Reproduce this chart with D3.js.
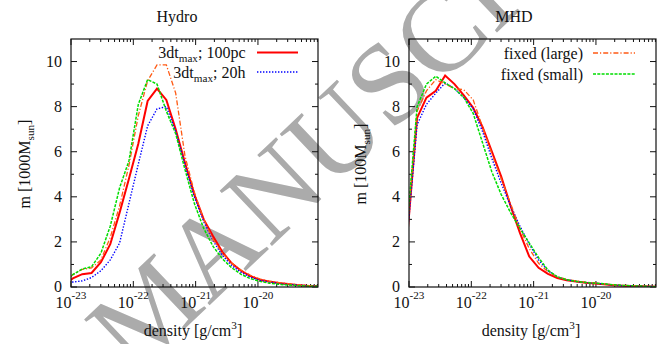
<!DOCTYPE html>
<html>
<head>
<meta charset="utf-8">
<script src="https://cdn.jsdelivr.net/npm/d3@7"></script>
<style>
  body { margin: 0; background: #fff; }
  svg { display: block; }
</style>
</head>
<body>
<svg id="chart" width="670" height="344" font-family="'Liberation Serif', 'Times New Roman', Times, serif"></svg>
<script>
// ---- data: mass per density bin, log10(density [g/cm^3]) grids ----
const hydroLogDensity = [-23.12, -22.97, -22.82, -22.67, -22.52, -22.37, -22.22, -22.07, -21.92, -21.77,
  -21.62, -21.47, -21.32, -21.17, -21.02, -20.87, -20.72, -20.57, -20.42, -20.27,
  -20.12, -19.97, -19.82, -19.67, -19.52, -19.37, -19.22, -19.07, -18.92];
// Hydro run, mass in 1000 Msun
const hydro100pc = [0.10, 0.38, 0.57, 0.62, 1.10, 1.90, 3.30, 4.80, 6.35, 8.25,
  8.80, 8.30, 7.00, 5.50, 4.10, 3.00, 2.25, 1.55, 1.05, 0.72,
  0.48, 0.32, 0.24, 0.18, 0.13, 0.09, 0.06, 0.04, 0.02];
const hydro20h = [0.10, 0.22, 0.27, 0.42, 0.72, 1.20, 1.95, 3.70, 5.45, 7.15,
  7.90, 8.00, 6.90, 5.40, 4.00, 2.90, 2.05, 1.40, 0.95, 0.65,
  0.43, 0.30, 0.22, 0.16, 0.12, 0.09, 0.06, 0.04, 0.02];
const hydroFixedLarge = [0.15, 0.55, 0.78, 0.85, 1.20, 2.20, 3.60, 5.40, 7.60, 9.15,
  9.85, 9.85, 8.60, 5.80, 4.20, 3.00, 2.10, 1.50, 1.05, 0.75,
  0.52, 0.36, 0.26, 0.20, 0.15, 0.10, 0.07, 0.04, 0.02];
const hydroFixedSmall = [0.10, 0.55, 0.80, 0.90, 1.50, 2.70, 4.40, 5.60, 8.10, 9.20,
  9.00, 7.80, 6.80, 5.20, 3.70, 2.60, 1.80, 1.25, 0.85, 0.56,
  0.37, 0.25, 0.17, 0.12, 0.09, 0.06, 0.04, 0.03, 0.02];

const mhdLogDensity = [-23.02, -22.87, -22.72, -22.57, -22.42, -22.27, -22.12, -21.97, -21.82, -21.67,
  -21.52, -21.37, -21.22, -21.07, -20.92, -20.77, -20.62, -20.47, -20.32, -20.17,
  -20.02, -19.87, -19.72, -19.57, -19.42, -19.27, -19.12, -18.97];
// MHD run, mass in 100 Msun
const mhd100pc = [2.50, 7.50, 8.40, 8.70, 9.38, 9.00, 8.50, 7.95, 7.10, 6.00,
  4.90, 3.60, 2.40, 1.35, 0.85, 0.58, 0.40, 0.30, 0.24, 0.19,
  0.16, 0.12, 0.08, 0.06, 0.04, 0.03, 0.02, 0.01];
const mhd20h = [2.50, 7.20, 8.10, 8.60, 9.05, 8.80, 8.40, 7.90, 6.90, 5.70,
  4.60, 3.60, 2.70, 1.90, 1.20, 0.72, 0.45, 0.32, 0.25, 0.20,
  0.17, 0.13, 0.09, 0.06, 0.04, 0.03, 0.02, 0.01];
const mhdFixedLarge = [2.80, 7.80, 8.70, 9.20, 9.00, 8.80, 8.75, 8.30, 7.10, 5.90,
  4.80, 3.70, 2.60, 1.70, 1.05, 0.68, 0.45, 0.34, 0.27, 0.22,
  0.18, 0.14, 0.10, 0.07, 0.05, 0.03, 0.02, 0.01];
const mhdFixedSmall = [3.00, 8.00, 9.00, 9.35, 9.05, 8.80, 8.40, 7.70, 6.40, 5.10,
  4.10, 3.30, 2.60, 1.95, 1.30, 0.75, 0.45, 0.32, 0.25, 0.20,
  0.17, 0.14, 0.10, 0.07, 0.05, 0.04, 0.02, 0.01];

const xMajorExponents = [-23, -22, -21, -20];
const yMajorTicks = [0, 2, 4, 6, 8, 10];
const yMinorTicks = [1, 3, 5, 7, 9];
const densityMin = 1e-23;
const densityMax = 9.2e-20;
const massMax = 11;

// ---- drawing ----
const svg = d3.select("#chart");
const FONT = 16;
const INK = "#111";

// background watermark
svg.append("text")
  .attr("transform", "translate(134,377) rotate(-43.5)")
  .attr("font-size", 116)
  .attr("fill", "#ababab")
  .text("MANUSCRIPT");

const styles = {
  res100pc: { color: "#ff0000", width: 2.0, dash: null },
  res20h:   { color: "#0000ff", width: 1.4, dash: "1.4,1.6" },
  large:    { color: "#ff5a14", width: 1.3, dash: "5,2,1.2,2" },
  small:    { color: "#00dd00", width: 1.5, dash: "3,1.3" }
};

function panel(cfg) {
  const x = d3.scaleLog().domain([densityMin, densityMax]).range([cfg.x0, cfg.x1]);
  const y = d3.scaleLinear().domain([0, massMax]).range([287, 39]);
  const g = svg.append("g");
  const clipId = "clip-" + cfg.id;
  g.append("clipPath").attr("id", clipId)
    .append("rect").attr("x", cfg.x0).attr("y", 39)
    .attr("width", cfg.x1 - cfg.x0).attr("height", 287 - 39);

  // ticks (inward, mirrored)
  const tickG = g.append("g").attr("stroke", INK).attr("stroke-width", 1);
  const allX = x.ticks().filter(v => v >= densityMin && v <= densityMax);
  allX.forEach(v => {
    const major = Math.abs(Math.log10(v) - Math.round(Math.log10(v))) < 1e-6;
    const len = major ? 6 : 3;
    const px = x(v);
    tickG.append("line").attr("x1", px).attr("x2", px).attr("y1", 287).attr("y2", 287 - len);
    tickG.append("line").attr("x1", px).attr("x2", px).attr("y1", 39).attr("y2", 39 + len);
  });
  yMajorTicks.concat(yMinorTicks).forEach(v => {
    const len = yMajorTicks.includes(v) ? 6 : 3;
    const py = y(v);
    tickG.append("line").attr("x1", cfg.x0).attr("x2", cfg.x0 + len).attr("y1", py).attr("y2", py);
    tickG.append("line").attr("x1", cfg.x1).attr("x2", cfg.x1 - len).attr("y1", py).attr("y2", py);
  });

  // y tick labels
  yMajorTicks.forEach(v => {
    g.append("text").attr("x", cfg.x0 - 9).attr("y", y(v) + 5.5 - (v === 0 ? 1 : 0))
      .attr("text-anchor", "end").attr("font-size", FONT).attr("fill", INK).text(v);
  });
  // x tick labels 10^n
  xMajorExponents.forEach(e => {
    const t = g.append("text").attr("x", x(Math.pow(10, e))).attr("y", 307.5)
      .attr("text-anchor", "middle").attr("font-size", FONT).attr("fill", INK);
    t.append("tspan").text("10");
    t.append("tspan").attr("dy", -9).attr("font-size", FONT * 0.7).text("-" + Math.abs(e));
  });

  // curves
  const line = d3.line()
    .x(d => x(Math.pow(10, d[0])))
    .y(d => y(d[1]));
  const cg = g.append("g").attr("clip-path", `url(#${clipId})`);
  cfg.series.forEach(s => {
    const st = styles[s.style];
    cg.append("path")
      .datum(cfg.logDensity.map((ld, i) => [ld, s.values[i]]))
      .attr("d", line)
      .attr("fill", "none")
      .attr("stroke", st.color)
      .attr("stroke-width", st.width)
      .attr("stroke-dasharray", st.dash)
      .attr("stroke-linejoin", "miter");
  });

  // frame
  g.append("rect").attr("x", cfg.x0).attr("y", 39)
    .attr("width", cfg.x1 - cfg.x0).attr("height", 287 - 39)
    .attr("fill", "none").attr("stroke", INK).attr("stroke-width", 1.2);

  // title
  g.append("text").attr("x", cfg.titleX).attr("y", 22).attr("text-anchor", "middle")
    .attr("font-size", FONT).attr("fill", INK).text(cfg.title);

  // axis labels
  const xl = g.append("text").attr("x", cfg.xLabelX).attr("y", 336).attr("text-anchor", "middle")
    .attr("font-size", FONT).attr("fill", INK);
  xl.append("tspan").text("density [g/cm");
  xl.append("tspan").attr("dy", -7).attr("font-size", FONT * 0.7).text("3");
  xl.append("tspan").attr("dy", 7).text("]");

  const yl = g.append("text")
    .attr("transform", `translate(${cfg.yLabelX},164) rotate(-90)`)
    .attr("text-anchor", "middle").attr("font-size", FONT).attr("fill", INK);
  yl.append("tspan").text(cfg.yLabelMain);
  yl.append("tspan").attr("dy", 4).attr("font-size", FONT * 0.7).text("sun");
  yl.append("tspan").attr("dy", -4).text("]");

  // legend
  cfg.legend.forEach((item, i) => {
    const ly = cfg.legendY[i];
    const st = styles[item.style];
    const t = g.append("text").attr("x", cfg.legendTextX).attr("y", ly + 5.5)
      .attr("text-anchor", "end").attr("font-size", FONT).attr("fill", INK);
    item.parts.forEach(p => {
      const ts = t.append("tspan").text(p.text);
      if (p.sub) ts.attr("dy", 4).attr("font-size", FONT * 0.7);
      if (p.after) ts.attr("dy", -4);
    });
    g.append("line").attr("x1", cfg.legendLine[0]).attr("x2", cfg.legendLine[1])
      .attr("y1", ly).attr("y2", ly)
      .attr("stroke", st.color).attr("stroke-width", st.width)
      .attr("stroke-dasharray", st.dash);
  });
}

panel({
  id: "hydro", x0: 71, x1: 318, title: "Hydro", titleX: 177, xLabelX: 193, yLabelX: 30,
  yLabelMain: "m [1000M",
  logDensity: hydroLogDensity,
  series: [
    { style: "res100pc", values: hydro100pc },
    { style: "res20h", values: hydro20h },
    { style: "large", values: hydroFixedLarge },
    { style: "small", values: hydroFixedSmall }
  ],
  legendTextX: 245.5, legendLine: [257, 298], legendY: [52.5, 72],
  legend: [
    { style: "res100pc", parts: [{ text: "3dt" }, { text: "max", sub: true }, { text: "; 100pc", after: true }] },
    { style: "res20h", parts: [{ text: "3dt" }, { text: "max", sub: true }, { text: "; 20h", after: true }] }
  ]
});

panel({
  id: "mhd", x0: 409, x1: 656, title: "MHD", titleX: 514, xLabelX: 531, yLabelX: 366,
  yLabelMain: "m [100M",
  logDensity: mhdLogDensity,
  series: [
    { style: "res100pc", values: mhd100pc },
    { style: "res20h", values: mhd20h },
    { style: "large", values: mhdFixedLarge },
    { style: "small", values: mhdFixedSmall }
  ],
  legendTextX: 583, legendLine: [593, 635], legendY: [53, 74],
  legend: [
    { style: "large", parts: [{ text: "fixed (large)" }] },
    { style: "small", parts: [{ text: "fixed (small)" }] }
  ]
});
</script>
</body>
</html>
